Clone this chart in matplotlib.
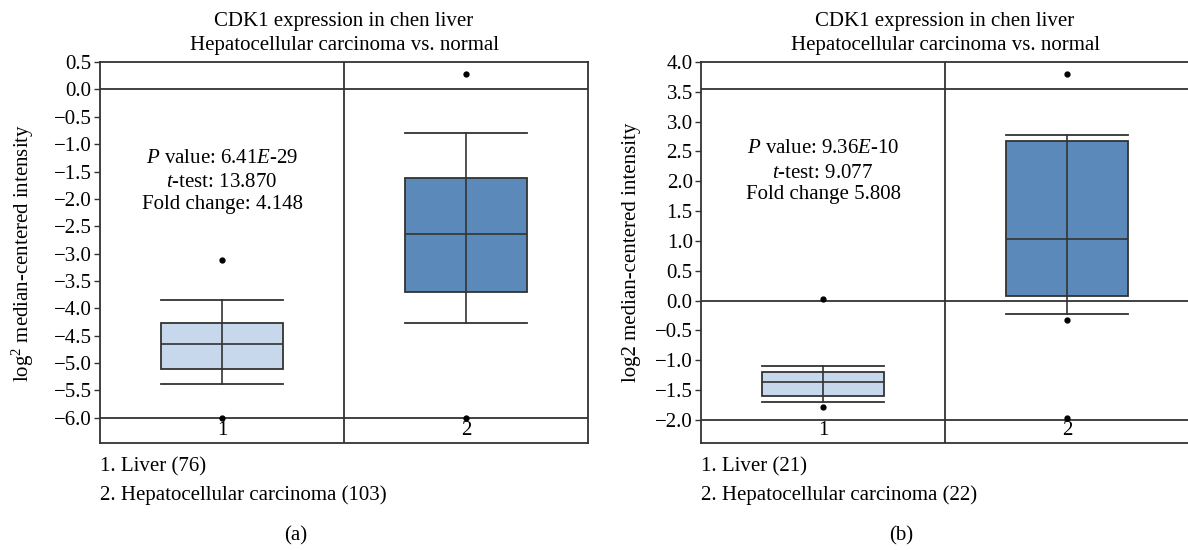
import matplotlib
matplotlib.use('Agg')
import matplotlib.pyplot as plt

plt.rcParams['font.family'] = 'Liberation Serif'
plt.rcParams['mathtext.fontset'] = 'custom'
plt.rcParams['mathtext.rm'] = 'Liberation Serif'
plt.rcParams['mathtext.it'] = 'Liberation Serif:italic'

# panel (a): chen liver, Liver (76) vs HCC (103)
a_whislo = [-5.38, -4.27]
a_q1 = [-5.10, -3.70]
a_med = [-4.65, -2.65]
a_q3 = [-4.27, -1.62]
a_whishi = [-3.85, -0.80]
a_fliers = [[-3.12, -6.0], [0.28, -6.0]]
a_hlines = [0.0, -6.0]
a_yticks = [0.5, 0.0, -0.5, -1.0, -1.5, -2.0, -2.5, -3.0, -3.5, -4.0, -4.5, -5.0, -5.5, -6.0]
a_ylim = (-6.46, 0.5)

# panel (b): Liver (21) vs HCC (22)
b_whislo = [-1.70, -0.22]
b_q1 = [-1.60, 0.08]
b_med = [-1.37, 1.04]
b_q3 = [-1.20, 2.68]
b_whishi = [-1.10, 2.77]
b_fliers = [[0.02, -1.78], [3.80, -0.32, -1.97]]
b_hlines = [3.54, 0.0, -2.0]
b_yticks = [4.0, 3.5, 3.0, 2.5, 2.0, 1.5, 1.0, 0.5, 0.0, -0.5, -1.0, -1.5, -2.0]
b_ylim = (-2.39, 4.0)

box_colors = ['#c8d8ec', '#5b89ba']
line_col = '#333333'
fs = 15


def panel(ax, whislo, q1, med, q3, whishi, fliers, hlines, yticks, ylim,
          ylabel, ylabelpad, stats_txt, stats_y, groups, tag, tag_x):
    stats = []
    for i in range(2):
        stats.append(dict(whislo=whislo[i], q1=q1[i], med=med[i], q3=q3[i],
                          whishi=whishi[i], fliers=fliers[i]))
    bp = ax.bxp(stats, positions=[1, 2], widths=0.5, patch_artist=True,
                boxprops=dict(edgecolor=line_col, linewidth=1.3),
                medianprops=dict(color=line_col, linewidth=1.2),
                whiskerprops=dict(color=line_col, linewidth=1.2),
                capprops=dict(color=line_col, linewidth=1.3),
                capwidths=0.5,
                flierprops=dict(marker='o', markersize=3.5, markerfacecolor='black',
                                markeredgecolor='black'))
    for patch, c in zip(bp['boxes'], box_colors):
        patch.set_facecolor(c)
    # the whisker line runs through the box in these plots
    for i in range(2):
        ax.plot([i + 1, i + 1], [q1[i], q3[i]], color=line_col, lw=1.2, zorder=3)
    for h in hlines:
        ax.axhline(h, color=line_col, lw=1.3, zorder=1)
    ax.axvline(1.5, color=line_col, lw=1.3)
    ax.set_xlim(0.5, 2.5)
    ax.set_ylim(*ylim)
    ax.set_yticks(yticks)
    ax.set_yticklabels([f'{t:.1f}'.replace('-', '\u2212') for t in yticks], fontsize=fs)
    ax.set_xticks([1, 2])
    ax.set_xticklabels(['1', '2'], fontsize=fs)
    ax.tick_params(axis='x', length=0, pad=-16)
    ax.tick_params(axis='y', length=4, width=1, color=line_col, pad=2)
    for s in ax.spines.values():
        s.set_color(line_col)
        s.set_linewidth(1.3)
    ax.set_ylabel(ylabel, fontsize=fs, labelpad=ylabelpad)
    ax.set_title('CDK1 expression in chen liver\nHepatocellular carcinoma vs. normal',
                 fontsize=fs, linespacing=1.32, pad=9)
    for k, line in enumerate(stats_txt):
        ax.text(1.0, stats_y[k], line, ha='center', va='center', fontsize=fs)
    ax.text(0.0, -0.062, groups[0], transform=ax.transAxes, fontsize=fs, va='center')
    ax.text(0.0, -0.138, groups[1], transform=ax.transAxes, fontsize=fs, va='center')
    ax.text(tag_x, -0.244, tag, transform=ax.transAxes, fontsize=fs, va='center', ha='center')


fig = plt.figure(figsize=(11.88, 5.5), dpi=100)
ax1 = fig.add_axes([0.0842, 0.1945, 0.4108, 0.6927])
ax2 = fig.add_axes([0.5901, 0.1945, 0.4108, 0.6927])

panel(ax1, a_whislo, a_q1, a_med, a_q3, a_whishi, a_fliers, a_hlines, a_yticks, a_ylim,
      'log$^2$ median-centered intensity', 13,
      ['$P$ value: 6.41$E$-29', '$t$-test: 13.870', 'Fold change: 4.148'],
      [-1.26, -1.70, -2.11],
      ['1. Liver (76)', '2. Hepatocellular carcinoma (103)'], '(a)', 0.40)

panel(ax2, b_whislo, b_q1, b_med, b_q3, b_whishi, b_fliers, b_hlines, b_yticks, b_ylim,
      'log2 median-centered intensity', 10,
      ['$P$ value: 9.36$E$-10', '$t$-test: 9.077', 'Fold change 5.808'],
      [2.55, 2.13, 1.78],
      ['1. Liver (21)', '2. Hepatocellular carcinoma (22)'], '(b)', 0.41)

fig.savefig('out.png', dpi=100)
